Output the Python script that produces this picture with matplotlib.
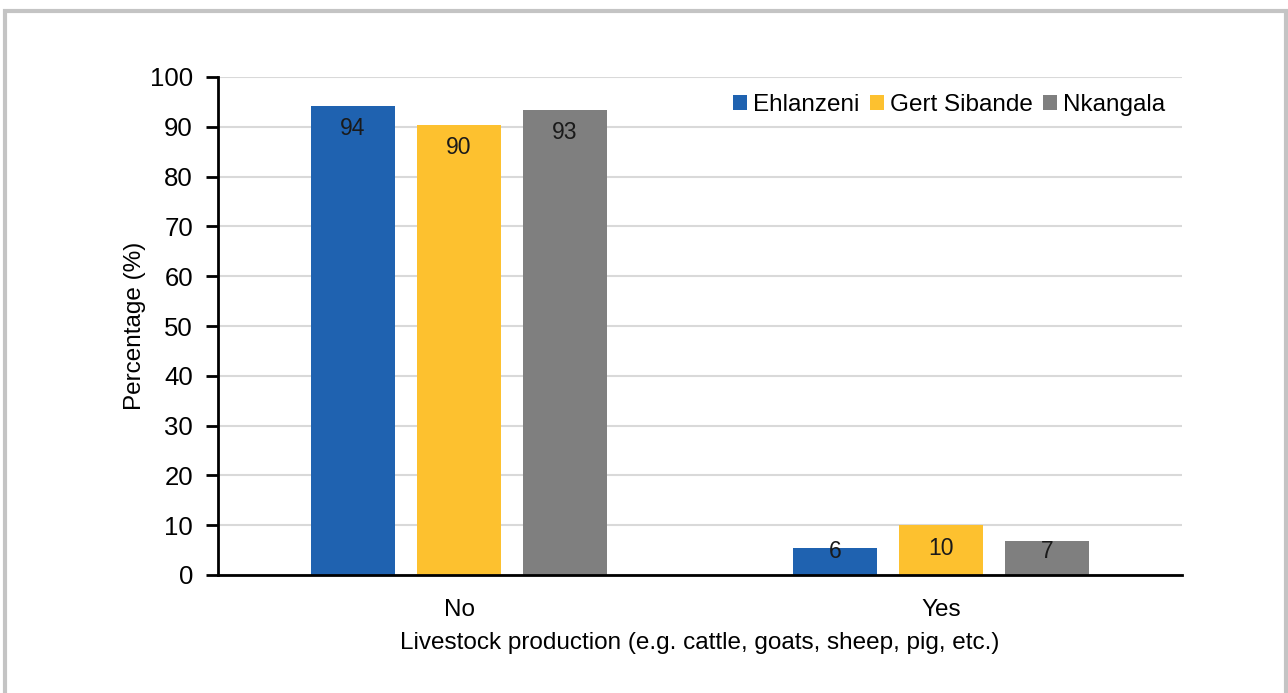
import numpy as np
import matplotlib
matplotlib.use("Agg")
import matplotlib.pyplot as plt
from matplotlib.patches import Rectangle

# data
categories = ["No", "Yes"]
districts = ["Ehlanzeni", "Gert Sibande", "Nkangala"]
ehlanzeni = [94.2, 5.5]
gert_sibande = [90.4, 10.0]
nkangala = [93.4, 6.9]
ehlanzeni_lbl = ["94", "6"]
gert_sibande_lbl = ["90", "10"]
nkangala_lbl = ["93", "7"]
yticks = [0, 10, 20, 30, 40, 50, 60, 70, 80, 90, 100]

colors = ["#1F62B0", "#FDC12F", "#7F7F7F"]
series = [ehlanzeni, gert_sibande, nkangala]
labels = [ehlanzeni_lbl, gert_sibande_lbl, nkangala_lbl]

plt.rcParams['font.family'] = ['Liberation Sans', 'DejaVu Sans']

fig = plt.figure(figsize=(12.88, 6.93), dpi=100)
ax = fig.add_axes([218 / 1288, 1 - 575 / 693, (1182 - 218) / 1288, (575 - 77) / 693])

x = np.arange(len(categories))
width = 0.175
step = 0.22
for i, (vals, lbls, c, name) in enumerate(zip(series, labels, colors, districts)):
    pos = x + (i - 1) * step
    ax.bar(pos, vals, width, color=c, label=name, zorder=2)
    for p, v, t in zip(pos, vals, lbls):
        ax.text(p, max(v - 4.6, 4.7), t, ha="center", va="center",
                fontsize=16.5, color="#1a1a1a", zorder=3)

ax.set_xlim(-0.5, 1.5)
ax.set_ylim(0, 100)
ax.set_yticks(yticks)
ax.set_xticks(x)
ax.set_xticklabels(categories)
ax.tick_params(axis="x", length=0, pad=17, labelsize=17.5)
ax.tick_params(axis="y", length=9, width=2, direction="out", pad=9, labelsize=18.5)
ax.yaxis.grid(True, color="#d9d9d9", linewidth=1.5, zorder=0)
ax.set_axisbelow(True)
for s in ["top", "right"]:
    ax.spines[s].set_visible(False)
ax.spines["left"].set_linewidth(2)
ax.spines["bottom"].set_linewidth(2)

ax.set_ylabel("Percentage (%)", fontsize=17.5, labelpad=3)
ax.set_xlabel("Livestock production (e.g. cattle, goats, sheep, pig, etc.)", fontsize=17.5, labelpad=8)

ax.legend(loc="upper right", bbox_to_anchor=(1.0, 1.0), ncol=3, frameon=False,
          fontsize=17.5, handlelength=0.55, handleheight=0.55, handletextpad=0.25,
          columnspacing=0.45, borderaxespad=0.3)

# grey frame around the figure
fig.add_artist(Rectangle((5 / 1288, -0.1), (1286 - 5) / 1288, 1.1 - 11 / 693,
                         transform=fig.transFigure, fill=False,
                         edgecolor="#c4c4c4", linewidth=3, clip_on=False))

fig.savefig("out.png", dpi=100)
